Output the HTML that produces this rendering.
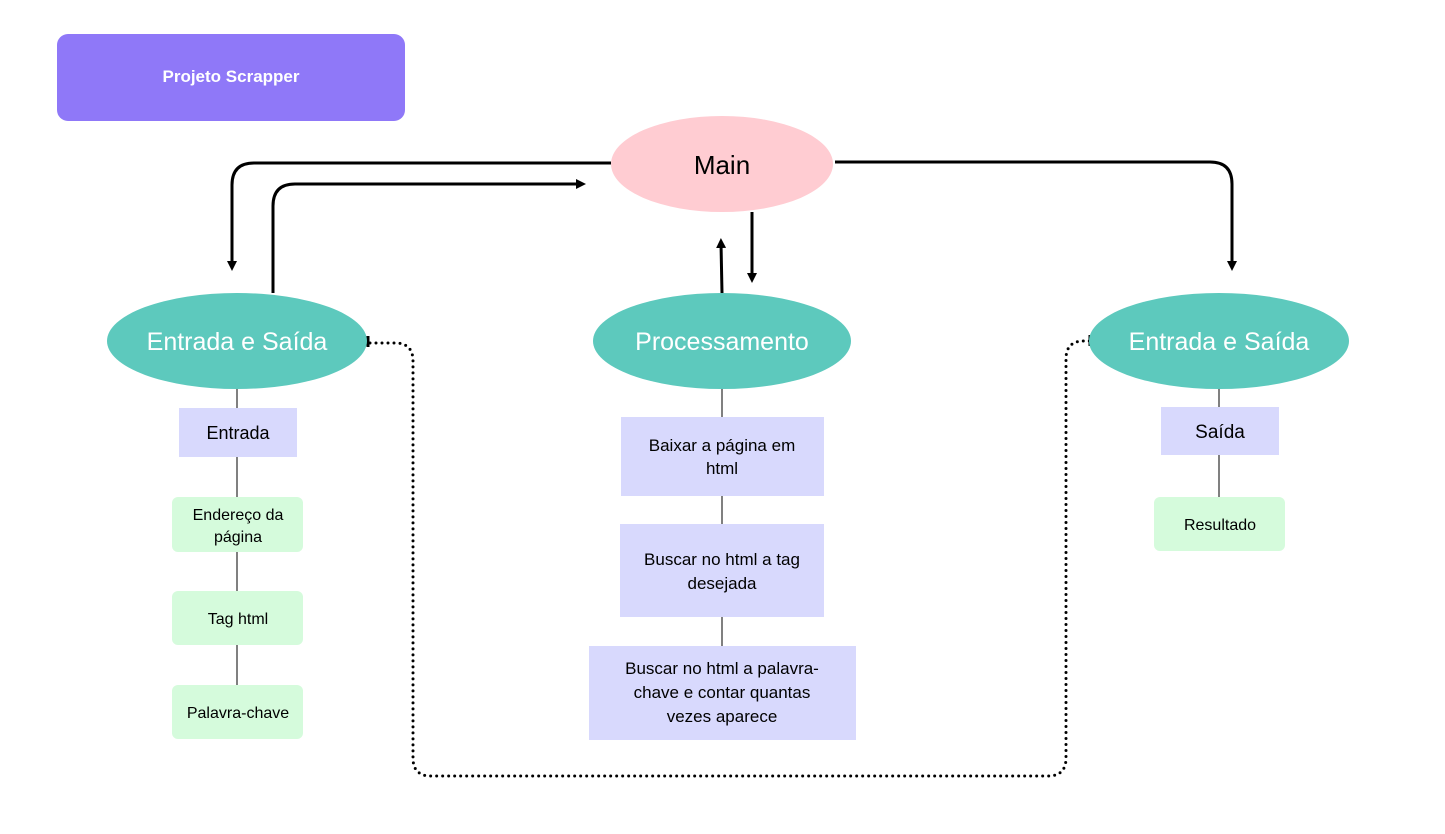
<!DOCTYPE html>
<html><head><meta charset="utf-8"><style>
html,body{margin:0;padding:0;background:#fff;}
svg{display:block;}
text{font-family:"Liberation Sans",sans-serif;}
</style></head><body>
<svg width="1445" height="834" viewBox="0 0 1445 834" xmlns="http://www.w3.org/2000/svg">
<defs>
<marker id="ah" markerWidth="10" markerHeight="10" refX="5" refY="5" orient="auto" markerUnits="userSpaceOnUse">
<path d="M0,0 L10,5 L0,10 z" fill="#000"/></marker>
</defs>
<rect x="57" y="34" width="348" height="87" rx="11" fill="#8f78f8"/>
<text x="231" y="82" font-size="17" font-weight="bold" fill="#fff" text-anchor="middle">Projeto Scrapper</text>

<!-- connectors -->
<g fill="none" stroke="#000" stroke-width="3">
<path d="M611,163 H254 Q232,163 232,185 V266" marker-end="url(#ah)"/>
<path d="M273,293 V206 Q273,184 295,184 H581" marker-end="url(#ah)"/>
<path d="M835,162 H1210 Q1232,162 1232,184 V266" marker-end="url(#ah)"/>
<path d="M722,293 L721,243" marker-end="url(#ah)"/>
<path d="M752,212 V278" marker-end="url(#ah)"/>
</g>
<path d="M370,343 H395 Q413,343 413,361 V758 Q413,776 431,776 H1048 Q1066,776 1066,758 V359 Q1066,341 1084,341 H1090" fill="none" stroke="#000" stroke-width="3" stroke-linecap="round" stroke-dasharray="0 6"/>
<line x1="368" y1="336" x2="368" y2="347" stroke="#000" stroke-width="3"/>
<line x1="1090" y1="335" x2="1090" y2="346" stroke="#000" stroke-width="3"/>

<!-- tree lines -->
<g stroke="#000" stroke-width="1">
<line x1="237" y1="388" x2="237" y2="685"/>
<line x1="722" y1="388" x2="722" y2="646"/>
<line x1="1219" y1="388" x2="1219" y2="497"/>
</g>

<ellipse cx="722" cy="164" rx="111" ry="48" fill="#ffccd2"/>
<text x="722" y="174" font-size="26" fill="#000" text-anchor="middle">Main</text>

<g fill="#5dc9bd">
<ellipse cx="237" cy="341" rx="130" ry="48"/>
<ellipse cx="722" cy="341" rx="129" ry="48"/>
<ellipse cx="1219" cy="341" rx="130" ry="48"/>
</g>
<g font-size="25" fill="#fff" text-anchor="middle">
<text x="237" y="350">Entrada e Saída</text>
<text x="722" y="350">Processamento</text>
<text x="1219" y="350">Entrada e Saída</text>
</g>

<!-- left column -->
<rect x="179" y="408" width="118" height="49" fill="#d8d9fd"/>
<text x="238" y="439" font-size="18" text-anchor="middle">Entrada</text>
<g fill="#d5fbdc">
<rect x="172" y="497" width="131" height="55" rx="6"/>
<rect x="172" y="591" width="131" height="54" rx="6"/>
<rect x="172" y="685" width="131" height="54" rx="6"/>
</g>
<g font-size="16" text-anchor="middle">
<text x="238" y="520">Endereço da</text>
<text x="238" y="542">página</text>
<text x="238" y="624">Tag html</text>
<text x="238" y="718">Palavra-chave</text>
</g>

<!-- middle -->
<g fill="#d8d9fd">
<rect x="621" y="417" width="203" height="79"/>
<rect x="620" y="524" width="204" height="93"/>
<rect x="589" y="646" width="267" height="94"/>
</g>
<g font-size="17" text-anchor="middle">
<text x="722" y="451">Baixar a página em</text>
<text x="722" y="474">html</text>
<text x="722" y="565">Buscar no html a tag</text>
<text x="722" y="589">desejada</text>
<text x="722" y="674">Buscar no html a palavra-</text>
<text x="722" y="698">chave e contar quantas</text>
<text x="722" y="722">vezes aparece</text>
</g>

<!-- right -->
<rect x="1161" y="407" width="118" height="48" fill="#d8d9fd"/>
<text x="1220" y="438" font-size="19" text-anchor="middle">Saída</text>
<rect x="1154" y="497" width="131" height="54" rx="6" fill="#d5fbdc"/>
<text x="1220" y="530" font-size="16" text-anchor="middle">Resultado</text>
</svg>
</body></html>
